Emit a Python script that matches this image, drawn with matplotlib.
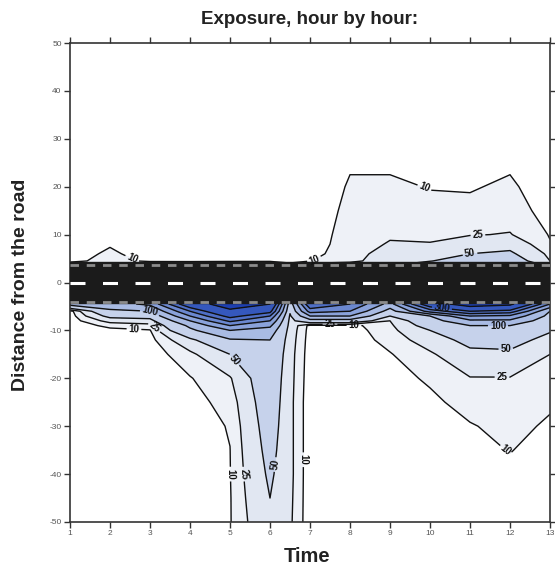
import numpy as np
import matplotlib
matplotlib.use('Agg')
import matplotlib.pyplot as plt

plt.rcParams['font.family'] = ['Liberation Sans', 'DejaVu Sans']
plt.rcParams['lines.scale_dashes'] = False
plt.rcParams['axes.unicode_minus'] = False

# Distancia a la carretera (filas de la malla), de abajo arriba
distancia = [-50, -45, -40, -35, -30, -25, -20, -15, -12, -10, -9, -8, -7, -6, -4.5,
             4.5, 6, 8, 10, 15, 20, 25, 30, 50]

# Horas (columnas de la malla)
horas = [1, 2, 3, 4, 5, 6, 6.5, 7, 8, 9, 10, 11, 12, 13]

# Perfil de exposicion de cada hora (mismo orden que distancia)
hora_1 = [0, 0, 0, 0, 0, 0, 0, 0, 0, 1, 1, 2, 2, 3, 120, 7, 5, 3, 2, 1, 1, 0, 0, 0]
hora_2 = [0, 0, 0, 0, 0, 0, 0, 1, 3, 6, 14, 32, 60, 90, 130, 14, 12, 9, 6, 3, 2, 1, 0, 0]
hora_3 = [0, 0, 0, 0, 0, 0, 1, 2, 5, 9, 18, 38, 65, 100, 160, 8, 5, 3, 2, 1, 1, 0, 0, 0]
hora_4 = [0, 1, 1, 2, 3, 5, 9, 20, 42, 90, 110, 150, 200, 250, 350, 5, 4, 3, 2, 1, 0, 0, 0, 0]
hora_5 = [9, 9, 9.5, 9.8, 11, 15, 23, 50, 95, 150, 200, 260, 320, 380, 450, 5, 4, 3, 2, 1, 0, 0, 0, 0]
hora_6 = [45, 50, 55, 60, 65, 70, 75, 85, 100, 130, 160, 200, 250, 320, 400, 6, 5, 4, 3, 2, 1, 0, 0, 0]
hora_6_5 = [28, 29, 30, 30, 30, 30, 31, 32, 34, 36, 38, 40, 45, 55, 70, 7, 6, 5, 4, 2, 1, 0, 0, 0]
hora_7 = [0, 0, 0, 0, 0, 0, 1, 2, 3, 4, 5, 80, 150, 220, 300, 9.5, 7, 6, 5, 4, 3, 2, 1, 0]
hora_8 = [0, 0, 0, 0, 0, 0, 0, 1, 2, 3, 5, 80, 150, 200, 250, 18, 15, 14, 14, 12.5, 11, 9, 5, 0]
hora_9 = [0, 0, 0, 1, 2, 3, 5, 9, 15, 19, 21, 25, 50, 80, 130, 40, 36, 27, 22, 16, 12, 8, 5, 0]
hora_10 = [0, 0, 1, 2, 4, 7, 12, 22, 35, 50, 65, 80, 100, 220, 350, 48, 35, 26, 21, 13, 9.5, 6, 4, 0]
hora_11 = [1, 2, 4, 6, 9, 15, 24, 42, 60, 80, 100, 140, 200, 300, 450, 75, 50, 35, 24, 13, 9, 5, 3, 0]
hora_12 = [2, 4, 7, 10.5, 14, 18, 24, 44, 62, 85, 100, 140, 190, 280, 420, 70, 55, 40, 26, 16, 12, 8, 4, 0]
hora_13 = [1, 2, 3, 5, 8, 12, 17, 25, 40, 53, 60, 70, 85, 100, 200, 25, 20, 11, 9, 5, 3, 2, 1, 0]

niveles = [0, 10, 25, 50, 100, 150, 200, 250, 300, 400, 600]
colores = ['#ffffff', '#eef1f7', '#e1e7f2', '#c6d2eb', '#a9bbe3', '#8aa2da',
           '#6b88d0', '#4f6fc6', '#3558bd', '#1d3fb0']

# Posiciones de las etiquetas de las curvas
etiquetas = [(2.55, 4.9), (7.1, 4.8), (9.85, 19.6), (11.2, 9.6), (11.0, 6.0),
             (3.0, -6.0), (2.6, -9.6), (3.15, -9.0), (5.2, -15.5),
             (5.02, -40), (5.35, -40), (6.12, -38), (6.84, -37),
             (7.5, -8.6), (8.1, -8.9),
             (11.7, -8.9), (11.9, -13.3), (11.8, -19.5), (11.9, -35), (10.3, -5.2)]

Z = np.column_stack([hora_1, hora_2, hora_3, hora_4, hora_5, hora_6, hora_6_5, hora_7,
                     hora_8, hora_9, hora_10, hora_11, hora_12, hora_13])

fig = plt.figure(figsize=(5.55, 5.69), dpi=100)
ax = fig.add_axes([70 / 555, 47 / 569, 480 / 555, 479 / 569])

ax.contourf(horas, distancia, Z, levels=niveles, colors=colores, zorder=1)
cs = ax.contour(horas, distancia, Z, levels=niveles[1:-1], colors='#111111',
                linewidths=1.0, zorder=2)
textos = ax.clabel(cs, fmt='%d', fontsize=7, inline=True, inline_spacing=2,
                   manual=etiquetas)
for t in textos:
    t.set_fontweight('bold')
    t.set_zorder(6)

# Carretera
ax.axhspan(-4.3, 4.2, color='#1b1b1b', zorder=3)
ax.plot([1, 13], [0, 0], color='white', lw=2.2, dashes=(10.8, 12.6), zorder=4)
ax.plot([1, 13], [3.6, 3.6], color='#8c8c8c', lw=2.0, dashes=(6.1, 5.6), zorder=4)
ax.plot([1, 13], [-4.0, -4.0], color='#8c8c8c', lw=2.0, dashes=(6.1, 5.6), zorder=4)

ax.set_xlim(1, 13)
ax.set_ylim(-50, 50)
ax.set_xticks(range(1, 14))
ax.set_yticks(range(-50, 51, 10))
ax.tick_params(direction='out', top=True, right=True, length=4, width=1.0,
               labelsize=6, labelcolor='#555555', color='#333333', pad=2)
for s in ax.spines.values():
    s.set_linewidth(1.2)
    s.set_color('#333333')

fig.text(310 / 555, 1 - 20 / 569, 'Exposure, hour by hour:', ha='center', va='center',
         fontsize=13.5, fontweight='bold', color='#222222')
fig.text(307 / 555, 1 - 557 / 569, 'Time', ha='center', va='center',
         fontsize=14.5, fontweight='bold', color='#222222')
fig.text(21 / 555, 1 - 285 / 569, 'Distance from the road', ha='center', va='center',
         rotation=90, fontsize=14, fontweight='bold', color='#222222')

fig.savefig('out.png', dpi=100)
